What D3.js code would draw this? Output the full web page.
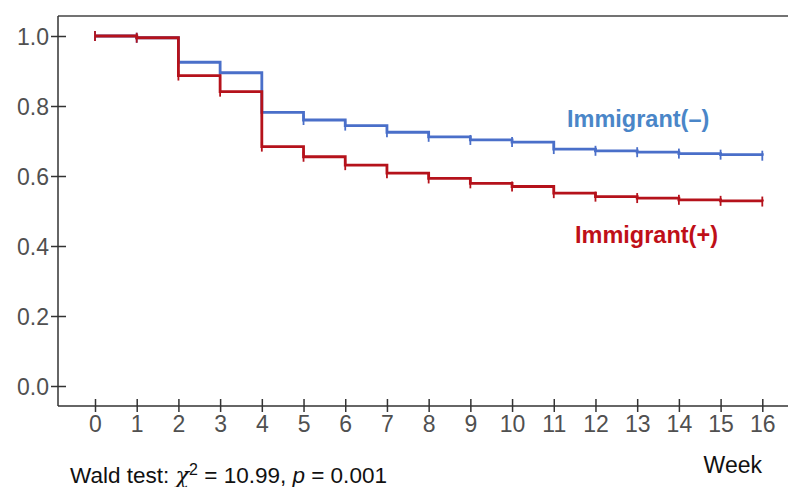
<!DOCTYPE html>
<html>
<head>
<meta charset="utf-8">
<script src="https://cdn.jsdelivr.net/npm/d3@7"></script>
<style>
  body { margin: 0; background: #fff; }
  text { font-family: "Liberation Sans", Arial, sans-serif; }
</style>
</head>
<body>
<div id="canvas"></div>
<script>
"use strict"

// weeks and survival estimates
let weeks = [0, 1, 2, 3, 4, 5, 6, 7, 8, 9, 10, 11, 12, 13, 14, 15, 16]
let survNonImmigrant = [1.0, 0.995, 0.925, 0.895, 0.782, 0.76, 0.744, 0.725, 0.712, 0.703, 0.697, 0.677, 0.672, 0.668, 0.664, 0.661, 0.658]
let survImmigrant = [1.0, 0.995, 0.887, 0.841, 0.684, 0.655, 0.631, 0.608, 0.593, 0.579, 0.570, 0.551, 0.541, 0.537, 0.532, 0.529, 0.527]
let yTicks = [0, 0.2, 0.4, 0.6, 0.8, 1.0]

let drawing = d3.select("#canvas")
    .append("svg")
    .attr("width", 788)
    .attr("height", 487)

let x = d3.scaleLinear().domain([0, 16]).range([95, 762.3])
let y = d3.scaleLinear().domain([0, 1]).range([386, 36])

// frame: top line, left axis, bottom axis
drawing.append("line")
    .attr("x1", 58).attr("y1", 16).attr("x2", 788).attr("y2", 16)
    .attr("stroke", "#444").attr("stroke-width", 1.5)
drawing.append("line")
    .attr("x1", 58).attr("y1", 16).attr("x2", 58).attr("y2", 406)
    .attr("stroke", "#333").attr("stroke-width", 1.5)
drawing.append("line")
    .attr("x1", 58).attr("y1", 406).attr("x2", 788).attr("y2", 406)
    .attr("stroke", "#333").attr("stroke-width", 1.5)

// y axis
let yAxis = drawing.append("g")
    .attr("transform", "translate(58,0)")
    .call(d3.axisLeft(y).tickValues(yTicks).tickFormat(d3.format(".1f")).tickSize(7))
yAxis.select(".domain").remove()
yAxis.selectAll(".tick line")
    .attr("x1", -7).attr("x2", 8)
    .attr("stroke", "#333").attr("stroke-width", 1.5)
yAxis.selectAll(".tick text")
    .attr("x", -9)
    .attr("dy", "0.36em")
    .attr("font-size", 23)
    .attr("fill", "#505050")
    .attr("font-family", "Liberation Sans, Arial, sans-serif")

// x axis
let xAxis = drawing.append("g")
    .attr("transform", "translate(0,406)")
    .call(d3.axisBottom(x).tickValues(weeks).tickFormat(d3.format("d")).tickSize(6))
xAxis.select(".domain").remove()
xAxis.selectAll(".tick line")
    .attr("y1", -7).attr("y2", 6)
    .attr("stroke", "#333").attr("stroke-width", 1.5)
xAxis.selectAll(".tick text")
    .attr("y", 26)
    .attr("dy", "0")
    .attr("font-size", 23)
    .attr("fill", "#505050")
    .attr("font-family", "Liberation Sans, Arial, sans-serif")

// step curves
let stepLine = d3.line()
    .x(d => x(d[0]))
    .y(d => y(d[1]))
    .curve(d3.curveStepAfter)

function drawCurve(values, colour) {
    let pts = weeks.map((w, i) => [w, values[i]])
    drawing.append("path")
        .attr("d", stepLine(pts))
        .attr("fill", "none")
        .attr("stroke", colour)
        .attr("stroke-width", 2.8)
    // censor marks at each week
    drawing.append("g").selectAll("line")
        .data(pts)
        .join("line")
        .attr("x1", d => x(d[0])).attr("x2", d => x(d[0]))
        .attr("y1", d => y(d[1]) - 5).attr("y2", d => y(d[1]) + 5)
        .attr("stroke", colour)
        .attr("stroke-width", 1.8)
}

drawCurve(survNonImmigrant, "#4a6fc9")
drawCurve(survImmigrant, "#b5121b")

// curve labels
drawing.append("text")
    .attr("x", 567).attr("y", 127)
    .attr("font-size", 23.5).attr("font-weight", "bold")
    .attr("fill", "#4a86c8")
    .text("Immigrant(\u2013)")
drawing.append("text")
    .attr("x", 575).attr("y", 243)
    .attr("font-size", 23.5).attr("font-weight", "bold")
    .attr("fill", "#bf0f18")
    .text("Immigrant(+)")

// axis title
drawing.append("text")
    .attr("x", 762).attr("y", 473)
    .attr("text-anchor", "end")
    .attr("font-size", 23)
    .attr("fill", "#111")
    .text("Week")

// test statistic
let wald = drawing.append("text")
    .attr("x", 70).attr("y", 483)
    .attr("font-size", 22.5)
    .attr("fill", "#111")
wald.append("tspan").text("Wald test: ")
wald.append("tspan").attr("font-family", "DejaVu Serif, serif").attr("font-style", "italic").text("\u03C7")
wald.append("tspan").attr("font-size", 16).attr("dy", -8).text("2")
wald.append("tspan").attr("dy", 8).text(" = 10.99, ")
wald.append("tspan").attr("font-style", "italic").text("p")
wald.append("tspan").text(" = 0.001")
</script>
</body>
</html>
